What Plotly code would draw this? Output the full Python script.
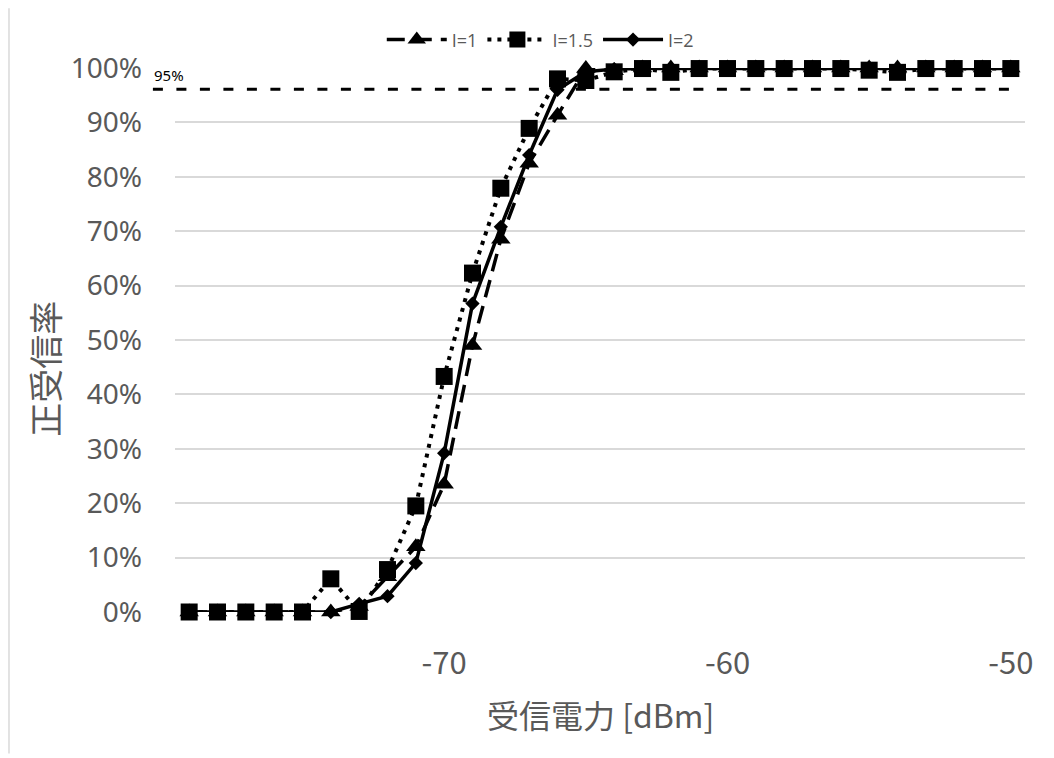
import plotly.graph_objects as go

# received power [dBm]
power = [-79, -78, -77, -76, -75, -74, -73, -72, -71, -70,
         -69, -68, -67, -66, -65, -64, -63, -62, -61, -60,
         -59, -58, -57, -56, -55, -54, -53, -52, -51, -50]

# correct reception rate (fraction)
rate_i1 = [0, 0, 0, 0, 0, 0, 0.010, 0.065, 0.120, 0.235,
           0.490, 0.685, 0.825, 0.913, 0.999, 0.995, 1.0, 1.0, 1.0, 1.0,
           1.0, 1.0, 1.0, 1.0, 1.0, 1.0, 1.0, 1.0, 1.0, 1.0]
rate_i15 = [0, 0, 0, 0, 0, 0.061, 0.001, 0.078, 0.195, 0.433,
            0.623, 0.779, 0.889, 0.980, 0.977, 0.993, 0.999, 0.992, 0.999, 0.999,
            0.999, 0.999, 0.999, 0.999, 0.996, 0.992, 0.999, 0.999, 0.999, 0.999]
rate_i2 = [0, 0, 0, 0, 0, 0, 0.015, 0.029, 0.090, 0.292,
           0.567, 0.708, 0.840, 0.960, 0.993, 0.998, 0.999, 0.999, 0.999, 0.999,
           0.999, 0.999, 0.999, 0.999, 0.999, 0.999, 0.999, 0.999, 0.999, 0.999]

series_names = ["I=1", "I=1.5", "I=2"]
x_ticks = [-70, -60, -50]
y_ticks = [0, 0.1, 0.2, 0.3, 0.4, 0.5, 0.6, 0.7, 0.8, 0.9, 1.0]
threshold_y = 0.961
threshold_label = "95%"

GRAY = "#595959"

fig = go.Figure()
fig.add_trace(go.Scatter(
    x=power, y=rate_i1, name=series_names[0], mode="lines+markers",
    line=dict(color="black", width=3.5, dash="18px,9px"),
    marker=dict(symbol="triangle-up", size=17, color="black"),
    cliponaxis=False))
fig.add_trace(go.Scatter(
    x=power, y=rate_i15, name=series_names[1], mode="lines+markers",
    line=dict(color="black", width=4, dash="4px,6px"),
    marker=dict(symbol="square", size=17, color="black"),
    cliponaxis=False))
fig.add_trace(go.Scatter(
    x=power, y=rate_i2, name=series_names[2], mode="lines+markers",
    line=dict(color="black", width=3.5),
    marker=dict(symbol="diamond", size=11, color="black"),
    cliponaxis=False))

# 95% reference line
fig.add_shape(type="line", xref="paper", yref="paper",
              x0=-0.026, x1=0.99, y0=threshold_y, y1=threshold_y,
              line=dict(color="black", width=3, dash="10px,13.5px"))
fig.add_annotation(xref="paper", yref="paper", x=-0.027, y=threshold_y + 0.004,
                   text=threshold_label, showarrow=False, xanchor="left", yanchor="bottom",
                   font=dict(family="Noto Sans", size=15, color="black"))

# chart border (left edge visible)
fig.add_shape(type="line", xref="paper", yref="paper",
              x0=-0.1953, x1=-0.1953, y0=-0.26, y1=1.11,
              line=dict(color="#d9d9d9", width=1.5))

# axis titles
fig.add_annotation(xref="paper", yref="paper", x=-0.153, y=0.447, text="正受信率",
                   textangle=-90, showarrow=False, xanchor="center", yanchor="middle",
                   font=dict(family="Noto Sans CJK JP", size=34, color=GRAY))
fig.add_annotation(xref="paper", yref="paper", x=0.5, y=-0.187, text="受信電力 [dBm]",
                   showarrow=False, xanchor="center", yanchor="middle",
                   font=dict(family="Noto Sans CJK JP", size=32, color=GRAY))

fig.update_xaxes(range=[-79.5, -49.5], tickvals=x_ticks, ticktext=[str(v) for v in x_ticks],
                 showgrid=False, zeroline=False, showline=False, ticks="",
                 ticklabelstandoff=30, automargin=False,
                 tickfont=dict(family="Noto Sans CJK JP", size=31, color=GRAY))
fig.update_yaxes(range=[0, 1], tickvals=y_ticks, tickformat=".0%",
                 showgrid=True, gridcolor="#d9d9d9", gridwidth=1.5,
                 zeroline=False, showline=False, ticks="",
                 ticklabelstandoff=32, automargin=False,
                 tickfont=dict(family="Noto Sans", size=28, color=GRAY))

fig.update_layout(
    width=1054, height=758,
    margin=dict(l=167, r=37, t=60, b=154, autoexpand=False),
    paper_bgcolor="white", plot_bgcolor="white",
    showlegend=True,
    legend=dict(orientation="h", xref="container", x=0.505, xanchor="center",
                yref="container", y=0.958, yanchor="middle",
                font=dict(family="Open Sans", size=18, color=GRAY),
                itemwidth=60, bgcolor="rgba(0,0,0,0)"),
)

fig.write_html("out.html")
